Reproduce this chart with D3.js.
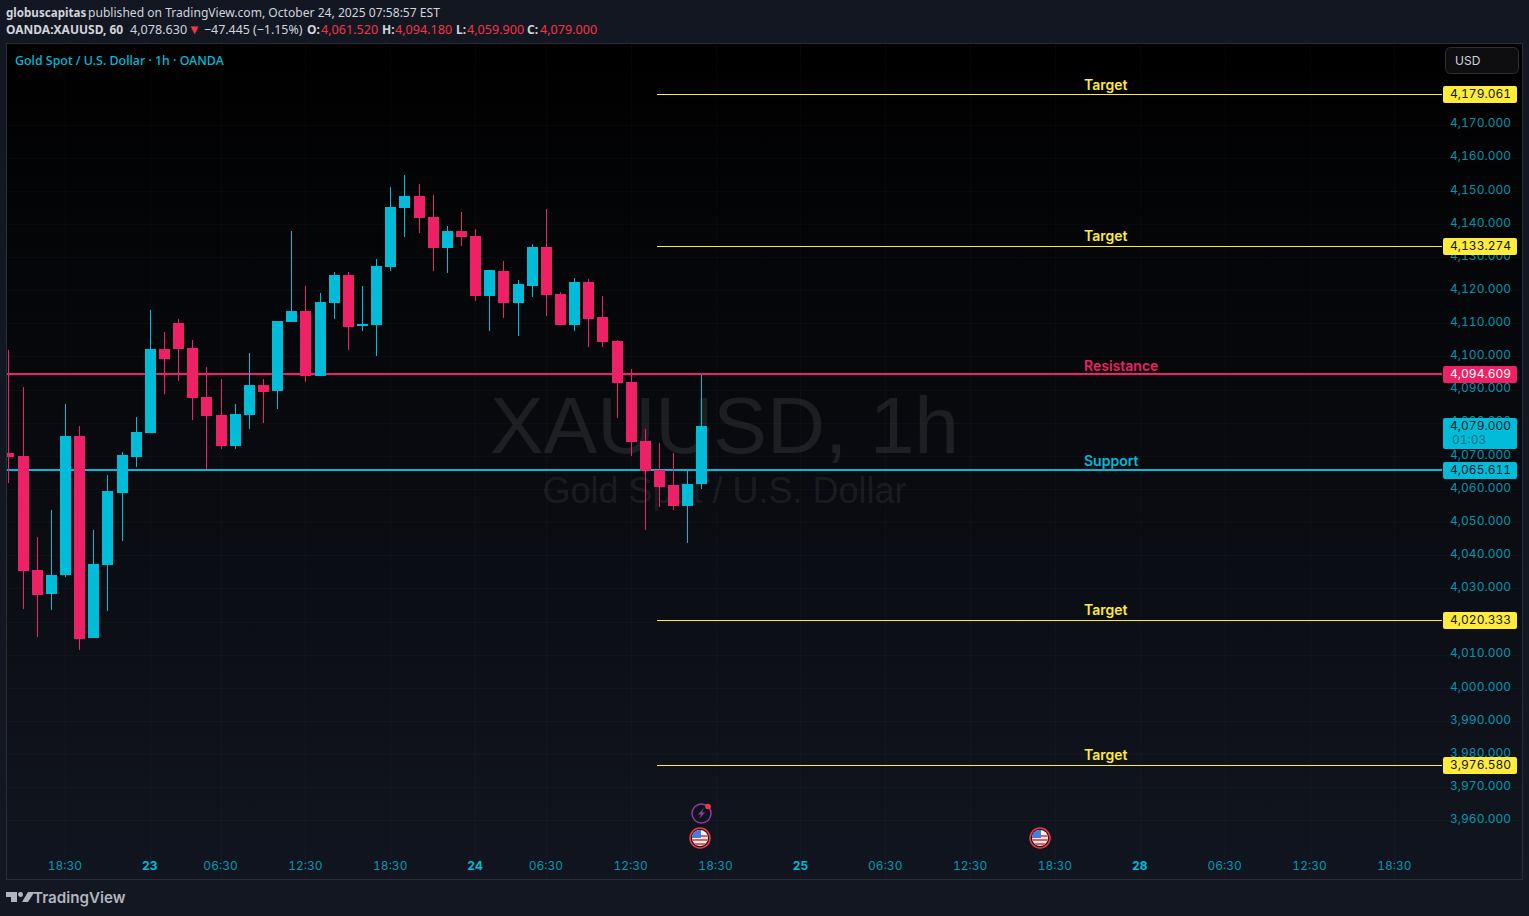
<!DOCTYPE html>
<html><head><meta charset="utf-8">
<script src="https://cdn.jsdelivr.net/npm/d3@7/dist/d3.min.js"></script>
<style>html,body{margin:0;padding:0;background:#131722;overflow:hidden}svg{display:block}.tn{font-variant-numeric:tabular-nums;font-feature-settings:"tnum" 1}</style>
</head><body><svg id="c" width="1529" height="916"></svg>
<script>
const opens=[4070.9,4070.0,4035.6,4028.4,4034.1,4076.0,4015.1,4037.1,4058.8,4069.7,4076.9,4102.3,4110.1,4102.6,4087.8,4082.4,4073.0,4082.4,4091.4,4089.6,4110.4,4113.8,4094.1,4116.2,4124.6,4109.2,4109.5,4127.0,4144.8,4148.4,4142.1,4132.8,4137.9,4136.4,4118.3,4125.8,4116.2,4121.3,4133.1,4118.9,4109.5,4122.5,4111.9,4104.7,4092.3,4074.5,4065.8,4061.2,4054.9,4061.5];
const highs=[4102.0,4090.8,4045.6,4053.7,4085.7,4079.1,4047.7,4064.3,4071.2,4081.8,4114.1,4107.4,4111.3,4105.0,4096.9,4093.2,4085.7,4101.1,4093.2,4110.7,4137.9,4121.3,4119.2,4125.5,4125.5,4121.3,4129.4,4151.1,4154.8,4152.1,4148.7,4139.4,4143.6,4138.5,4126.1,4128.8,4123.1,4134.0,4144.5,4119.5,4123.7,4123.4,4118.3,4105.0,4096.3,4078.1,4073.9,4070.9,4065.5,4094.4];
const lows=[4061.8,4023.8,4015.4,4023.5,4033.5,4011.5,4015.1,4023.2,4044.3,4066.7,4076.9,4088.7,4092.6,4080.9,4066.1,4072.1,4072.1,4078.1,4080.0,4084.2,4110.4,4092.3,4094.1,4111.3,4102.0,4107.7,4100.2,4125.8,4136.1,4137.3,4125.8,4125.2,4133.4,4116.8,4107.7,4111.6,4106.2,4118.0,4112.2,4109.5,4107.7,4102.9,4102.9,4081.5,4070.0,4047.7,4054.6,4053.7,4043.7,4060.0];
const closes=[4069.7,4035.3,4028.1,4034.1,4076.0,4014.8,4037.4,4059.4,4070.3,4077.2,4102.3,4099.3,4102.3,4087.5,4082.1,4073.0,4082.7,4091.4,4089.3,4110.7,4113.8,4094.1,4116.5,4124.6,4108.9,4109.8,4127.3,4145.1,4148.4,4141.8,4132.8,4137.9,4136.1,4118.3,4126.1,4116.2,4121.9,4133.1,4118.6,4109.5,4122.5,4111.3,4104.4,4092.0,4074.2,4065.5,4060.6,4054.9,4061.5,4079.0];
const bearish=[1,1,1,0,0,1,0,0,0,0,0,1,1,1,1,1,0,0,1,0,0,1,0,0,1,0,0,0,0,1,1,0,1,1,0,1,0,0,1,1,0,1,1,1,1,1,1,1,0,0];
const priceTicks=[4170,4160,4150,4140,4130,4120,4110,4100,4090,4080,4070,4060,4050,4040,4030,4020,4010,4000,3990,3980,3970,3960];
const timeTickIndex=[4,10,15,21,27,33,38,44,50,56,62,68,74,80,86,92,98];
const timeTickLabel=["18:30","23","06:30","12:30","18:30","24","06:30","12:30","18:30","25","06:30","12:30","18:30","28","06:30","12:30","18:30"];
const levelPrices=[4179.061,4133.274,4094.609,4065.611,4020.333,3976.580];
const levelNames=["Target","Target","Resistance","Support","Target","Target"];
const levelKinds=["target","target","res","sup","target","target"];
const levelLabelGap=[5,5,3,4,6,6];
const lastPrice=4079.000;

const UP="#00bcd9",DOWN="#ee2166",YEL="#ffeb3b";
const svg=d3.select("#c");
const PL=7,PR=1522,PT=44,PB=879;
const y=d3.scaleLinear().domain([4179.061,3976.58]).range([94.5,765.5]);
const x=d3.scaleLinear().domain([0,49]).range([8.4,701.4]);
const defs=svg.append("defs");
const g=defs.append("linearGradient").attr("id","bg").attr("x1",0).attr("x2",0).attr("y1",0).attr("y2",1);
g.append("stop").attr("offset",0).attr("stop-color","#000000");
g.append("stop").attr("offset",1).attr("stop-color","#11151f");
defs.append("clipPath").attr("id","plot").append("rect").attr("x",PL).attr("y",PT).attr("width",PR-PL).attr("height",PB-PT);

svg.append("rect").attr("width",1529).attr("height",916).attr("fill","#131722");
svg.append("rect").attr("x",6.5).attr("y",43.5).attr("width",1516).attr("height",836).attr("fill","url(#bg)").attr("stroke","#2a2e39");

const UI="'Noto Sans','Open Sans',sans-serif";
const hdr=svg.append("g").attr("font-family",UI).attr("font-size",12.1);
const put=(s,px,py,fill,bold,size)=>hdr.append("text").attr("x",px).attr("y",py).attr("fill",fill).attr("font-weight",bold?700:400).attr("font-size",size||null).text(s);
const TXT="#d1d4dc",RED="#f23645";
put("globuscapitas",6,17,TXT,true,11.6);
put("published on TradingView.com, October 24, 2025 07:58:57 EST",88,17,TXT,false,12.1);
put("OANDA:XAUUSD, 60",6,34,TXT,true,12);
put("4,078.630",130,34,TXT,false,12.6);
put("▼",188,34,RED,false,13);
put("−47.445 (−1.15%)",204,34,TXT,false,12.4);
put("O:",307,34,TXT,true,12);put("4,061.520",321,34,RED,false,12.6);
put("H:",382,34,TXT,true,12);put("4,094.180",395,34,RED,false,12.6);
put("L:",456,34,TXT,true,12);put("4,059.900",467,34,RED,false,12.6);
put("C:",527,34,TXT,true,12);put("4,079.000",540,34,RED,false,12.6);
svg.append("text").attr("x",15).attr("y",65).attr("font-family",UI).attr("font-size",12.4).attr("font-weight",500).attr("fill",UP).text("Gold Spot / U.S. Dollar · 1h · OANDA");

// grid
const grid=svg.append("g").attr("stroke","#ffffff").attr("stroke-opacity",0.025);
grid.selectAll("line.h").data(priceTicks).join("line").attr("x1",PL).attr("x2",PR).attr("y1",d=>Math.round(y(d))+.5).attr("y2",d=>Math.round(y(d))+.5);
grid.selectAll("line.v").data(timeTickIndex).join("line").attr("y1",PT).attr("y2",PB).attr("x1",d=>Math.round(x(d))+.5).attr("x2",d=>Math.round(x(d))+.5);

// watermark
const wm=svg.append("g").attr("font-family","'Liberation Sans',sans-serif").attr("text-anchor","middle").attr("fill","#ffffff");
wm.append("text").attr("x",724.5).attr("y",453).attr("font-size",80.4).attr("fill-opacity",.085).text("XAUUSD, 1h");
wm.append("text").attr("x",724.5).attr("y",503).attr("font-size",36).attr("fill-opacity",.085).text("Gold Spot / U.S. Dollar");

const levelColor=k=>k==="res"?DOWN:k==="sup"?UP:YEL;
const levels=svg.append("g").attr("clip-path","url(#plot)");

// candles
const plot=svg.append("g").attr("clip-path","url(#plot)");
const idx=d3.range(opens.length);
const col=i=>bearish[i]?DOWN:UP;
plot.selectAll("rect.w").data(idx).join("rect").attr("x",i=>Math.round(x(i))).attr("width",1)
  .attr("y",i=>Math.round(y(highs[i]))).attr("height",i=>Math.max(1,Math.round(y(lows[i]))-Math.round(y(highs[i])))).attr("fill",col);
plot.selectAll("rect.b").data(idx).join("rect").attr("x",i=>Math.round(x(i))-5).attr("width",11)
  .attr("y",i=>Math.round(y(Math.max(opens[i],closes[i])))).attr("height",i=>Math.max(2,Math.round(y(Math.min(opens[i],closes[i])))-Math.round(y(Math.max(opens[i],closes[i]))))).attr("fill",col);

levelPrices.forEach((p,i)=>{
  const k=levelKinds[i],full=k==="res"||k==="sup";
  levels.append("rect").attr("x",full?PL:657).attr("width",1442-(full?PL:657)).attr("y",full?Math.floor(y(p)-1):Math.floor(y(p))).attr("height",full?2:1).attr("fill",levelColor(k));
  svg.append("text").attr("x",1084).attr("y",y(p)-levelLabelGap[i]).attr("font-family","Inter,sans-serif").attr("font-size",14).attr("font-weight",600).attr("fill",levelColor(k)).text(levelNames[i]);
});

// price axis
const AF="Inter,Roboto,sans-serif";
const fmt=d3.format(",.3f");
const ax=svg.append("g").attr("class","tn").attr("font-family",AF).attr("font-size",12).attr("fill",UP).attr("fill-opacity",.8).attr("text-anchor","end");
ax.selectAll("text").data(priceTicks).join("text").attr("x",1511).attr("y",d=>y(d)-1.6).attr("dy","0.36em").text(d=>fmt(d));

// current price box
const lab=svg.append("g").attr("class","tn").attr("font-family",AF).attr("font-size",12);
lab.append("rect").attr("x",1443).attr("y",418).attr("width",74).attr("height",31).attr("rx",2).attr("fill",UP);
lab.append("text").attr("x",1511).attr("y",430).attr("text-anchor","end").attr("fill","#131722").text(fmt(lastPrice));
lab.append("text").attr("x",1452).attr("y",444).attr("fill","#0b6c80").text("01:03");
levelPrices.forEach((p,i)=>{
  const k=levelKinds[i],c=levelColor(k),py=y(p);
  lab.append("rect").attr("x",1443).attr("y",Math.floor(py)-8).attr("width",74).attr("height",17).attr("rx",2).attr("fill",c);
  lab.append("text").attr("x",1511).attr("y",py-1).attr("dy","0.36em").attr("text-anchor","end").attr("fill",k==="res"?"#ffffff":"#131722").text(fmt(p));
});

// USD button
svg.append("rect").attr("x",1445.5).attr("y",47.5).attr("width",73).attr("height",26).attr("rx",5).attr("fill","#0e0e10").attr("stroke","#2e2e33");
svg.append("text").attr("x",1455).attr("y",65).attr("font-family",AF).attr("font-size",12).attr("fill","#d1d4dc").text("USD");

// time axis
svg.append("g").attr("class","tn").attr("font-family",AF).attr("font-size",12).attr("text-anchor","middle")
 .selectAll("text").data(timeTickIndex).join("text").attr("x",d=>x(d)).attr("y",870)
 .attr("fill",UP).attr("fill-opacity",(d,i)=>timeTickLabel[i].length==2?1:.8).attr("font-weight",(d,i)=>timeTickLabel[i].length==2?700:400)
 .text((d,i)=>timeTickLabel[i]);

// event icons
function flag(cx,cy){
  const f=svg.append("g").attr("transform",`translate(${cx},${cy})`);
  const id="fl"+cx; defs.append("clipPath").attr("id",id).append("circle").attr("r",8);
  f.append("circle").attr("r",10).attr("fill","#131722").attr("stroke","#f23645").attr("stroke-width",1.5);
  const h=f.append("g").attr("clip-path",`url(#${id})`);
  h.append("rect").attr("x",-8).attr("y",-8).attr("width",16).attr("height",16).attr("fill","#f4f4f4");
  [-2,2,6].forEach(v=>h.append("rect").attr("x",-8).attr("y",v-1).attr("width",16).attr("height",2).attr("fill","#ef5a5a"));
  h.append("rect").attr("x",-8).attr("y",-8).attr("width",9).attr("height",8).attr("fill","#4a7bd8");
}
flag(700,838);flag(1040,838);
const e=svg.append("g").attr("transform","translate(701.5,813.5)");
e.append("circle").attr("r",9.5).attr("fill","none").attr("stroke","#8e3aa0").attr("stroke-width",1.5);
e.append("path").attr("d","M2.5,-5.5 L-3.5,1 L-0.5,1 L-2.5,5.5 L3.5,-1 L0.5,-1 Z").attr("fill","#8e3aa0");
e.append("circle").attr("cx",6.5).attr("cy",-7).attr("r",2.8).attr("fill","#f23645");

// TradingView logo
const lg=svg.append("g").attr("transform","translate(6,890)").attr("fill","#b2b5be");
lg.append("path").attr("d","M0,2H11V12H5V7H0Z M14.5,2A2.5,2.5 0 1,0 14.51,7A2.5,2.5 0 1,0 14.5,2Z M22,2H28.5L22,12H16Z");
svg.append("text").attr("x",33).attr("y",903).attr("font-family","Inter,'Noto Sans',sans-serif").attr("font-size",15.2).attr("font-weight",600).attr("fill","#b2b5be").text("TradingView");
</script></body></html>
